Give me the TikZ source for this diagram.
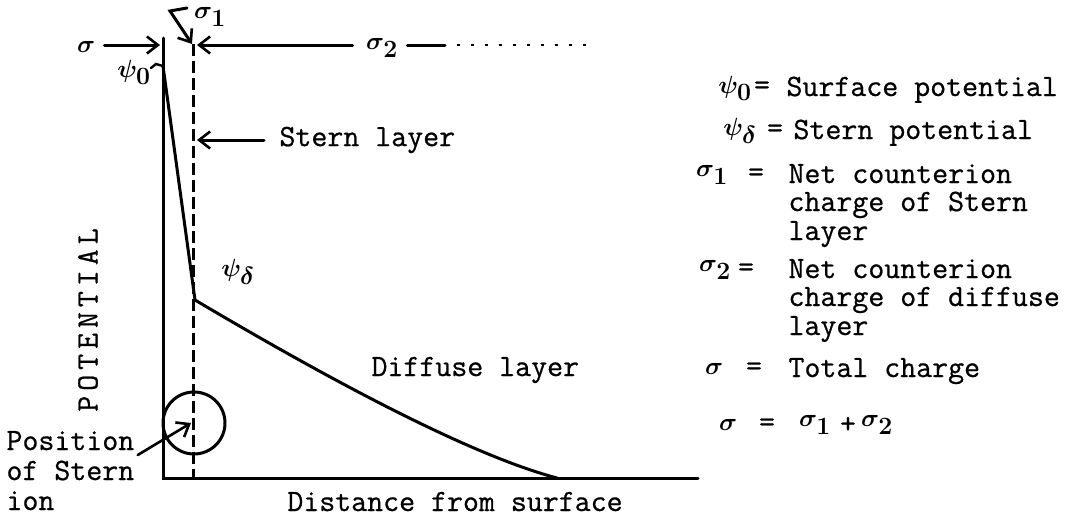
\documentclass[tikz,border=0pt]{standalone}
\usepackage{fontspec}
\usetikzlibrary{arrows.meta}
\newfontfamily\tw[FakeBold=0.7]{Latin Modern Mono}
\begin{document}
\begin{tikzpicture}[x=1pt,y=-1pt, line width=3pt, line cap=round,
  lbl/.style={font=\tw\fontsize{31}{34}\selectfont, inner sep=0pt},
  sym/.style={font=\fontsize{36}{40}\selectfont\boldmath, inner sep=0pt},
  tip/.style={-{Straight Barb[length=11pt,width=17pt,line width=2.6pt]}}]
\useasboundingbox (0,0) rectangle (1079,520);
% axes
\coordinate (top) at (163,38);
\coordinate (origin) at (163,478);
\coordinate (xend) at (698,478);
\coordinate (dtop) at (193,44);
\coordinate (dbot) at (193,478);
\draw (top) -- (origin) -- (xend);
\draw[line cap=butt, dash pattern=on 12pt off 5pt] (dtop) -- (dbot);
% potential curve
\coordinate (p0) at (163,66);
\coordinate (kink) at (195,300);
\coordinate (pend) at (557,478);
\draw (p0) -- (kink) .. controls (330,380) and (470,455) .. (pend);
% psi0
\node[sym] (psi0) at (134,72) {$\psi_0$};
\draw[line width=2.4pt] (151,68) -- (156,64) -- (p0);
% sigma
\node[sym] (sig) at (86,47) {$\sigma$};
\coordinate (sigtip) at (160,45);
\draw[tip] ([xshift=8pt]sig.east |- sigtip) -- (sigtip);
% sigma1
\node[sym] (sig1) at (210,17) {$\sigma_1$};
\coordinate (c1) at (170,11);
\coordinate (c1a) at (187,8);
\coordinate (s1tip) at (192,44);
\draw[tip] (c1a) -- (c1) -- (s1tip);
% sigma2
\node[sym] (sig2) at (382,48) {$\sigma_2$};
\coordinate (s2tip) at (197,45);
\coordinate (s2line) at (445,45);
\coordinate (dots0) at (457,45);
\coordinate (dots1) at (590,45);
\draw[tip] ([xshift=-12pt]sig2.west |- s2tip) -- (s2tip);
\draw ([xshift=8pt]sig2.east |- s2line) -- (s2line);
\draw[line width=2.4pt, line cap=butt, dash pattern=on 3pt off 11pt] (dots0) -- (dots1);
% Stern layer
\node[lbl, anchor=west] (stern) at (278,140) {Stern layer};
\coordinate (sterntip) at (197,140);
\draw[tip] ([xshift=-14pt]stern.west) -- (sterntip);
% psi delta
\node[sym] (psid) at (238,272) {$\psi_\delta$};
% Diffuse layer
\node[lbl, anchor=west] (diff) at (370,370) {Diffuse layer};
% POTENTIAL
\node[lbl, rotate=90] (pot) at (88,320) {\addfontfeature{LetterSpace=16}POTENTIAL};
% Stern ion circle
\node[draw, circle, minimum size=62pt, inner sep=0pt] (ion) at (194,423) {};
\node[lbl, anchor=base west] (pos) at (5,450) {Position};
\node[lbl, anchor=base west] (pos2) at (5,480) {of Stern};
\node[lbl, anchor=base west] (pos3) at (5,510) {ion};
\draw[tip, line width=2.6pt] ([xshift=2pt,yshift=-5pt]pos.base east) -- ([xshift=-3pt]ion.center);
% x label
\node[lbl, anchor=base] (xlab) at (455,511) {Distance from surface};
% legend
\node[sym] (l1s) at (735,88) {$\psi_0$};
\node[lbl] (l1e) at (762,88) {=};
\node[lbl, anchor=base west] (l1t) at (785,96) {Surface potential};
\node[sym] (l2s) at (740,131) {$\psi_\delta$};
\node[lbl] (l2e) at (775,131) {=};
\node[lbl, anchor=base west] (l2t) at (792,139) {Stern potential};
\node[sym] (l3s) at (712,175) {$\sigma_1$};
\node[lbl] (l3e) at (756,175) {=};
\node[lbl, anchor=base west] (l3t) at (787,183) {Net counterion};
\node[lbl, anchor=base west] (l3u) at (787,211) {charge of Stern};
\node[lbl, anchor=base west] (l3v) at (787,240) {layer};
\node[sym] (l4s) at (715,270) {$\sigma_2$};
\node[lbl] (l4e) at (746,270) {=};
\node[lbl, anchor=base west] (l4t) at (787,278) {Net counterion};
\node[lbl, anchor=base west] (l4u) at (787,306) {charge of diffuse};
\node[lbl, anchor=base west] (l4v) at (787,335) {layer};
\node[sym] (l5s) at (714,369) {$\sigma$};
\node[lbl] (l5e) at (754,369) {=};
\node[lbl, anchor=base west] (l5t) at (787,377) {Total charge};
\node[sym] (l6s) at (728,425) {$\sigma$};
\node[lbl] (l6e) at (767,425) {=};
\node[sym] (l6a) at (815,425) {$\sigma_1$};
\node[lbl] (l6p) at (848,425) {+};
\node[sym] (l6b) at (877,425) {$\sigma_2$};
\end{tikzpicture}
\end{document}
